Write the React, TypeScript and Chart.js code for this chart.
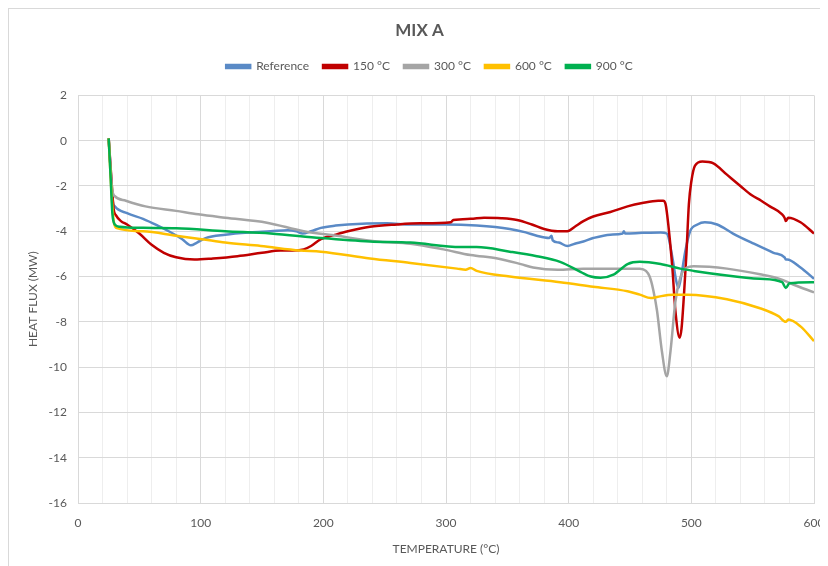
import React, { useEffect, useRef } from "react";
import { Chart, registerables } from "chart.js";

Chart.register(...registerables);

// Temperature (°C) and heat flux (mW) for each curve
const refT = [25, 26.5, 28.5, 30, 40, 53, 65, 74, 85, 92, 97, 104, 120, 140, 157, 171, 178, 183, 190, 198, 210, 220, 252, 271, 300, 325, 352, 365, 374, 384, 386, 387, 392, 399, 405, 412, 420, 434, 444, 445, 446, 460, 475, 480, 485, 487, 489.5, 492, 495, 499, 505, 511, 521, 534, 551, 567, 576, 577, 578, 589, 600];
const refV = [0.1, -1.2, -2.7, -2.9, -3.2, -3.45, -3.75, -4.0, -4.35, -4.62, -4.5, -4.3, -4.15, -4.05, -4.0, -3.95, -4.0, -4.1, -4.0, -3.85, -3.75, -3.7, -3.65, -3.7, -3.7, -3.75, -3.9, -4.05, -4.2, -4.3, -4.2, -4.4, -4.5, -4.65, -4.55, -4.45, -4.3, -4.15, -4.1, -4.0, -4.1, -4.07, -4.05, -4.1, -5.3, -6.0, -6.5, -5.9, -4.9, -4.0, -3.7, -3.6, -3.7, -4.1, -4.55, -4.95, -5.15, -5.25, -5.25, -5.6, -6.1];

const t150T = [25, 27, 29, 31, 35, 40, 50, 60, 70, 80, 95, 110, 130, 150, 165, 175, 184, 190, 198, 210, 220, 238, 260, 279, 304, 306, 320, 331, 345, 358, 370, 380, 391, 399, 405, 412, 420, 434, 448, 460, 473, 477, 479, 481.5, 484.5, 487, 490.5, 492, 494, 496, 498, 500, 503, 509, 518, 529, 540, 549, 557, 564, 574, 576, 577, 579, 589, 600];
const t150V = [0.1, -1.5, -3.0, -3.3, -3.55, -3.7, -4.1, -4.6, -4.95, -5.15, -5.25, -5.2, -5.1, -4.95, -4.85, -4.85, -4.8, -4.65, -4.35, -4.15, -4.0, -3.8, -3.7, -3.65, -3.6, -3.5, -3.45, -3.4, -3.42, -3.5, -3.7, -3.9, -4.0, -4.0, -3.8, -3.55, -3.35, -3.15, -2.9, -2.75, -2.65, -2.65, -2.8, -3.85, -5.6, -7.5, -8.7, -8.3, -6.8, -5.0, -2.8, -1.8, -1.1, -0.92, -1.0, -1.5, -2.0, -2.4, -2.65, -2.9, -3.25, -3.4, -3.55, -3.4, -3.6, -4.1];

const t300T = [25, 26.5, 28, 30, 39, 55, 80, 98, 120, 154, 184, 211, 244, 271, 298, 320, 342, 361, 371, 391, 412, 434, 458, 463, 466, 469, 472, 476, 480, 483, 487, 491, 495, 502, 529, 556, 572, 583, 600];
const t300V = [0.1, -1.2, -2.2, -2.45, -2.65, -2.9, -3.1, -3.25, -3.4, -3.62, -4.0, -4.2, -4.45, -4.55, -4.8, -5.05, -5.2, -5.45, -5.6, -5.7, -5.65, -5.65, -5.65, -5.75, -6.0, -6.6, -7.5, -9.3, -10.4, -9.3, -7.1, -6.05, -5.65, -5.55, -5.65, -5.9, -6.1, -6.35, -6.7];

const t600T = [25, 27, 29, 31, 53, 80, 101, 120, 149, 181, 198, 238, 271, 309, 316, 320, 325, 352, 393, 420, 448, 458, 467, 472, 485, 497, 529, 556, 571, 577, 579, 589, 600];
const t600V = [0.1, -2.0, -3.5, -3.85, -4.0, -4.2, -4.35, -4.5, -4.65, -4.85, -4.9, -5.2, -5.4, -5.65, -5.7, -5.62, -5.75, -6.0, -6.25, -6.45, -6.65, -6.8, -6.95, -6.9, -6.8, -6.8, -7.0, -7.4, -7.75, -8.0, -7.9, -8.2, -8.85];

const t900T = [25, 26.5, 28, 30, 34, 53, 80, 120, 157, 198, 238, 271, 312, 325, 352, 374, 393, 410, 418, 426, 437, 448, 458, 475, 491, 502, 529, 556, 574, 577, 580, 600];
const t900V = [0.1, -1.5, -3.2, -3.7, -3.8, -3.85, -3.87, -4.0, -4.1, -4.3, -4.45, -4.5, -4.7, -4.7, -4.9, -5.1, -5.35, -5.8, -6.0, -6.05, -5.9, -5.45, -5.35, -5.45, -5.65, -5.75, -5.95, -6.1, -6.25, -6.5, -6.3, -6.25];

const seriesNames = ["Reference", "150 °C", "300 °C", "600 °C", "900 °C"];
const seriesColors = ["#5a8ac6", "#c00000", "#a5a5a5", "#ffc000", "#00b050"];
const seriesT = [refT, t150T, t300T, t600T, t900T];
const seriesV = [refV, t150V, t300V, t600V, t900V];

const xTicks = [0, 100, 200, 300, 400, 500, 600];
const yTicks = [2, 0, -2, -4, -6, -8, -10, -12, -14, -16];

const FONT = "Lato, 'Open Sans', sans-serif";
const TEXT = "#595959";

export default function App() {
  const canvasRef = useRef<HTMLCanvasElement>(null);

  useEffect(() => {
    if (!canvasRef.current) return;

    const datasets = seriesNames.map((name, i) => ({
      label: name,
      data: seriesT[i].map((t, j) => ({ x: t, y: seriesV[i][j] })),
      borderColor: seriesColors[i],
      backgroundColor: seriesColors[i],
      borderWidth: 2.5,
      pointRadius: 0,
      cubicInterpolationMode: "monotone" as const,
      order: seriesNames.length - i,
    }));

    // extra room below the legend row, and a slight rightward offset of the row
    const legendTweaks = {
      id: "legendTweaks",
      beforeInit(chart: any) {
        const legend = chart.legend;
        const fit = legend.fit;
        legend.fit = function () {
          fit.call(legend);
          this.height += 13;
        };
        const draw = legend.draw;
        legend.draw = function (...args: any[]) {
          const c = this.ctx;
          c.save();
          c.translate(10, 0);
          draw.apply(legend, args);
          c.restore();
        };
      },
    };

    const chart = new Chart(canvasRef.current, {
      type: "line",
      data: { datasets },
      plugins: [legendTweaks],
      options: {
        animation: false,
        responsive: false,
        maintainAspectRatio: false,
        parsing: false as any,
        layout: { padding: { left: 0, right: 0, top: 0, bottom: 0 } },
        plugins: {
          title: {
            display: true,
            text: "MIX A",
            color: TEXT,
            font: { family: FONT, size: 17, weight: "bold" },
            padding: { top: 11, bottom: 6 },
          },
          legend: {
            position: "top",
            labels: {
              color: TEXT,
              font: { family: FONT, size: 12 },
              boxWidth: 24,
              boxHeight: 3,
              padding: 14,
              sort: (a: any, b: any) => a.datasetIndex - b.datasetIndex,
            },
          },
          tooltip: { enabled: false },
        },
        scales: {
          x: {
            type: "linear",
            min: 0,
            max: 600,
            afterBuildTicks: (scale: any) => {
              const t = [];
              for (let v = 0; v <= 600; v += 20) t.push({ value: v });
              scale.ticks = t;
            },
            afterFit: (scale: any) => {
              scale.paddingRight = 16;
            },
            ticks: {
              autoSkip: false,
              maxRotation: 0,
              color: TEXT,
              font: { family: FONT, size: 12, lineHeight: 1 },
              padding: 14,
              callback: (v: any) => (xTicks.includes(Number(v)) ? String(v) : ""),
            },
            grid: {
              drawTicks: false,
              color: (ctx: any) => (ctx.tick && ctx.tick.value % 100 === 0 ? "#d9d9d9" : "#eeeeee"),
            },
            border: { color: "#d9d9d9" },
            title: {
              display: true,
              text: "TEMPERATURE (°C)",
              color: TEXT,
              font: { family: FONT, size: 12, lineHeight: 1 },
              padding: { top: 0, bottom: 10 },
            },
          },
          y: {
            type: "linear",
            min: -16,
            max: 2,
            afterBuildTicks: (scale: any) => {
              scale.ticks = yTicks.slice().reverse().map((v) => ({ value: v }));
            },
            afterFit: (scale: any) => {
              scale.width = 69;
            },
            ticks: {
              color: TEXT,
              font: { family: FONT, size: 12 },
              padding: 11,
            },
            grid: { drawTicks: false, color: "#d9d9d9" },
            border: { display: false },
            title: {
              display: true,
              text: "HEAT FLUX (MW)",
              color: TEXT,
              font: { family: FONT, size: 12 },
              padding: { top: 17, bottom: 0 },
            },
          },
        },
      },
    });

    return () => chart.destroy();
  }, []);

  return (
    <div style={{ width: 821, height: 560, border: "1px solid #d9d9d9" }}>
      <canvas ref={canvasRef} width={821} height={556} style={{ display: "block" }} />
    </div>
  );
}
